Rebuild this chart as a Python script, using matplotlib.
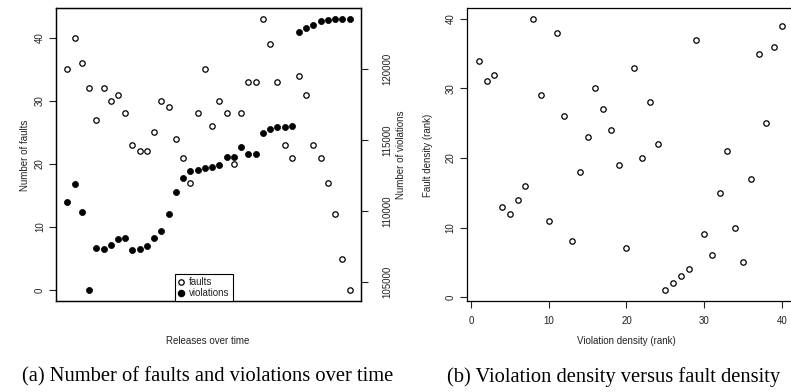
import matplotlib
matplotlib.use("Agg")
import matplotlib.pyplot as plt
from matplotlib.lines import Line2D

plt.rcParams['font.family'] = ['Liberation Sans', 'DejaVu Sans']

# ---- data ----
releases = list(range(1, 41))
faults = [35, 40, 36, 32, 27, 32, 30, 31, 28, 23,
          22, 22, 25, 30, 29, 24, 21, 17, 28, 35,
          26, 30, 28, 20, 28, 33, 33, 43, 39, 33,
          23, 21, 34, 31, 23, 21, 17, 12, 5, 0]
violations = [110600, 111900, 109900, 104400, 107400, 107300, 107600, 108000, 108100, 107200,
              107300, 107500, 108100, 108600, 109800, 111300, 112300, 112800, 112900, 113000,
              113100, 113200, 113800, 113800, 114500, 114000, 114000, 115500, 115800, 115900,
              115900, 116000, 122600, 122900, 123100, 123400, 123500, 123550, 123550, 123550]
viol_rank = list(range(1, 41))
fault_rank = [34, 31, 32, 13, 12, 14, 16, 40, 29, 11,
              38, 26, 8, 18, 23, 30, 27, 24, 19, 7,
              33, 20, 28, 22, 1, 2, 3, 4, 37, 9,
              6, 15, 21, 10, 5, 17, 35, 25, 36, 39]
fault_ticks = [0, 10, 20, 30, 40]
viol_ticks = [105000, 110000, 115000, 120000]
rank_ticks = [0, 10, 20, 30, 40]
caption_a = "(a) Number of faults and violations over time"
caption_b = "(b) Violation density versus fault density"

W, H = 791, 392
fig = plt.figure(figsize=(W / 100, H / 100), dpi=100)


def rect(x0, y0, x1, y1):
    return [x0 / W, 1 - y1 / H, (x1 - x0) / W, (y1 - y0) / H]


def rpad(lo, hi):
    d = (hi - lo) * 0.04
    return lo - d, hi + d


FS = 7
MS_OPEN = 3.9
MS_FILL = 4.4

# ---- left panel ----
ax = fig.add_axes(rect(56, 8, 361, 301))
ax.plot(releases, faults, linestyle='none', marker='o', ms=MS_OPEN,
        mfc='none', mec='black', mew=0.9, zorder=3)
ax.set_xlim(*rpad(1, 40))
ax.set_ylim(*rpad(min(faults), max(faults)))
ax.set_xticks([])
ax.set_yticks(fault_ticks)
ax.tick_params(axis='y', direction='out', length=5, width=0.8, pad=3,
               labelsize=FS, labelrotation=90, colors='#222222')
for t in ax.get_yticklabels():
    t.set_va('center')
for s in ax.spines.values():
    s.set_linewidth(0.9)

ax2 = ax.twinx()
ax2.plot(releases, violations, linestyle='none', marker='o', ms=MS_FILL,
         mfc='black', mec='black', mew=0.5, zorder=4)
ax2.set_ylim(*rpad(min(violations), max(violations)))
ax2.set_xlim(*rpad(1, 40))
ax2.set_yticks(viol_ticks)
ax2.tick_params(axis='y', direction='out', length=5, width=0.8, pad=10,
                labelsize=FS, labelrotation=90, colors='#222222')
for t in ax2.get_yticklabels():
    t.set_va('center')
for s in ax2.spines.values():
    s.set_linewidth(0.9)

handles = [Line2D([], [], linestyle='none', marker='o', ms=MS_OPEN, mfc='none',
                  mec='black', mew=0.9),
           Line2D([], [], linestyle='none', marker='o', ms=MS_FILL, mfc='black',
                  mec='black')]
leg = ax2.legend(handles, ['faults', 'violations'], loc='lower center',
                 bbox_to_anchor=(0.485, 0.0), fontsize=FS, frameon=True,
                 fancybox=False, edgecolor='black', framealpha=1,
                 borderpad=0.3, handlelength=0.7, handletextpad=0.45,
                 labelspacing=0.1, borderaxespad=0.0)
leg.get_frame().set_linewidth(0.8)
for t in leg.get_texts():
    t.set_color('#222222')

fig.text(25 / W, 1 - 155 / H, "Number of faults", rotation=90, ha='center',
         va='center', fontsize=FS, color='#222222')
fig.text(401 / W, 1 - 155 / H, "Number of violations", rotation=90, ha='center',
         va='center', fontsize=FS, color='#222222')
fig.text(208 / W, 1 - 341 / H, "Releases over time", ha='center', va='center',
         fontsize=FS, color='#222222')

# ---- right panel ----
bx = fig.add_axes(rect(466.7, 8, 794, 301))
bx.plot(viol_rank, fault_rank, linestyle='none', marker='o', ms=MS_OPEN,
        mfc='none', mec='black', mew=0.9)
bx.set_xlim(*rpad(1, 40))
bx.set_ylim(*rpad(1, 40))
bx.set_xticks(rank_ticks)
bx.set_yticks(rank_ticks)
bx.tick_params(axis='both', direction='out', length=5, width=0.8,
               labelsize=FS, colors='#222222')
bx.tick_params(axis='x', pad=6)
bx.tick_params(axis='y', pad=3, labelrotation=90)
for t in bx.get_yticklabels():
    t.set_va('center')
for s in bx.spines.values():
    s.set_linewidth(0.9)

fig.text(428 / W, 1 - 155 / H, "Fault density (rank)", rotation=90, ha='center',
         va='center', fontsize=FS, color='#222222')
fig.text(626 / W, 1 - 341 / H, "Violation density (rank)", ha='center',
         va='center', fontsize=FS, color='#222222')

# ---- captions ----
fig.text(208 / W, 1 - 377 / H, caption_a, ha='center', va='center',
         fontsize=14.8, family=['Liberation Serif', 'DejaVu Serif'], color='black')
fig.text(614 / W, 1 - 377 / H, caption_b, ha='center', va='center',
         fontsize=14.8, family=['Liberation Serif', 'DejaVu Serif'], color='black')

fig.savefig("out.png", dpi=100)
